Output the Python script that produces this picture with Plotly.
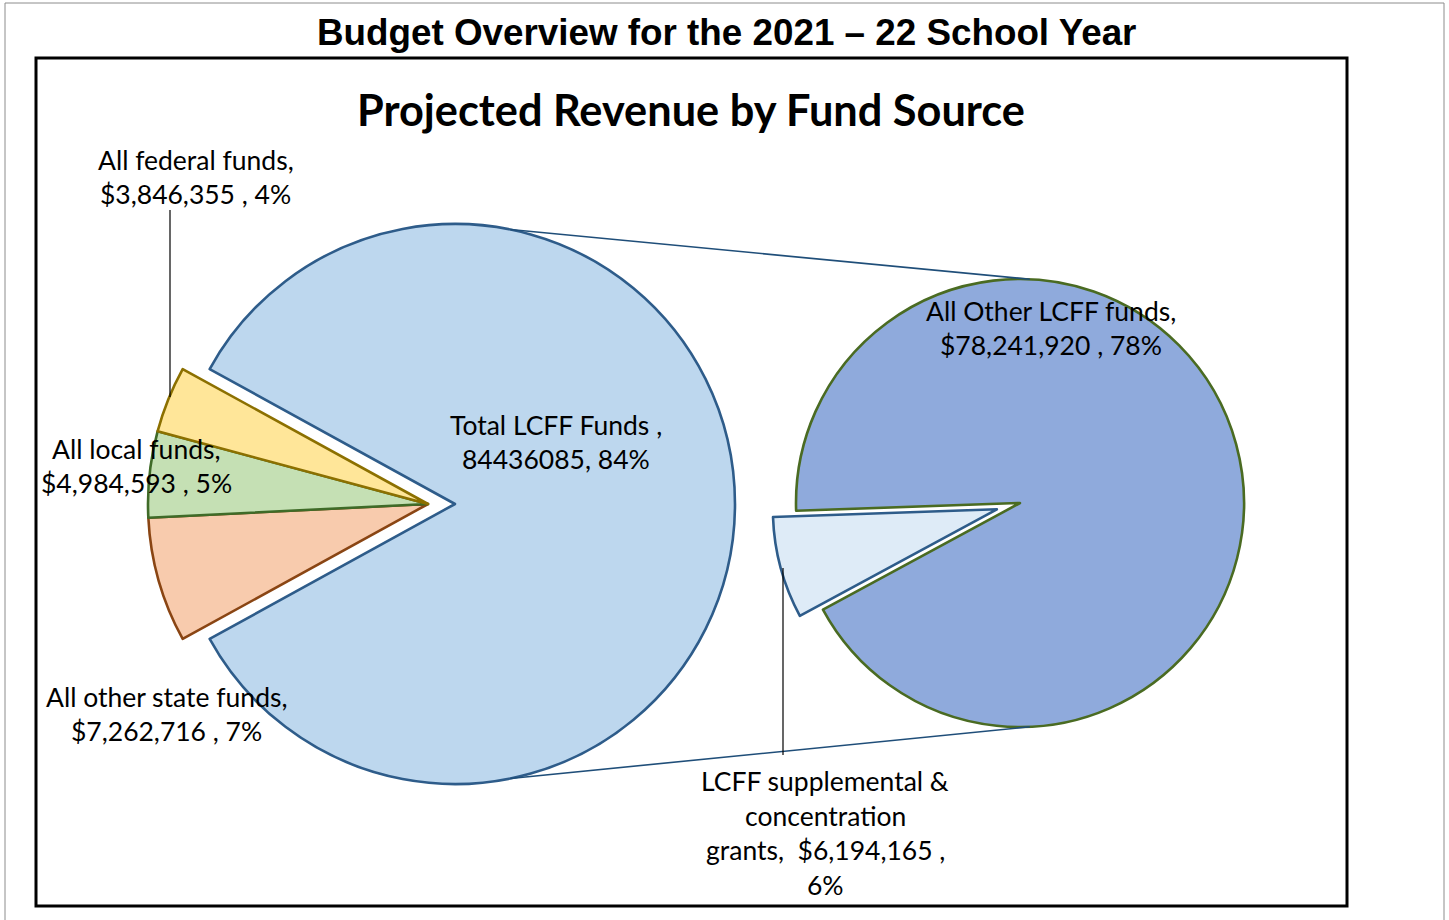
import math
import plotly.graph_objects as go

W, H = 1449, 920

# ---------------- data ----------------
main_labels = ["Total LCFF Funds", "All other state funds", "All local funds", "All federal funds"]
main_values = [84436085, 7262716, 4984593, 3846355]
sub_labels = ["LCFF supplemental & concentration grants", "All Other LCFF funds"]
sub_values = [6194165, 78241920]

title_text = "Budget Overview for the 2021 \u2013 22 School Year"
chart_title = "Projected Revenue by Fund Source"

# ---------------- styles ----------------
main_fill = ["#BDD7EE", "#F8CBAD", "#C5E0B4", "#FFE699"]
main_line = ["#2E5C8A", "#8A4513", "#3F6B28", "#8C7000"]
sub_fill = ["#DEEBF7", "#8FAADC"]
sub_line = ["#2E5C8A", "#4A6B22"]

LABEL_FONT = "Lato"
LABEL_SIZE = 26.5
LINE_GAP = 34.5

# geometry (pixels)
MAIN_CX, MAIN_CY, MAIN_R, MAIN_PULL = 428, 504, 280, 0.0964
SUB_CX, SUB_CY, SUB_R, SUB_PULL = 1020, 503, 224, 0.107
SUB_ROT = 241.6


def px(x):
    return x / W


def py(y):
    return 1 - y / H


total = sum(main_values)


def pct(v):
    return round(v / total * 100)


small_deg = 360 * sum(main_values[1:]) / total
main_rot = 270 + small_deg / 2

fig = go.Figure()

half = MAIN_R * (1 + MAIN_PULL)
fig.add_trace(go.Pie(
    labels=main_labels, values=main_values, sort=False, direction="clockwise",
    rotation=main_rot, pull=[MAIN_PULL, 0, 0, 0],
    marker=dict(colors=main_fill, line=dict(color=main_line, width=2.6)),
    textinfo="none", showlegend=False,
    domain=dict(x=[px(MAIN_CX - half), px(MAIN_CX + half)],
                y=[py(MAIN_CY + half), py(MAIN_CY - half)]),
))

half2 = SUB_R * (1 + SUB_PULL)
fig.add_trace(go.Pie(
    labels=sub_labels, values=sub_values, sort=False, direction="clockwise",
    rotation=SUB_ROT, pull=[SUB_PULL, 0],
    marker=dict(colors=sub_fill, line=dict(color=sub_line, width=2.6)),
    textinfo="none", showlegend=False,
    domain=dict(x=[px(SUB_CX - half2), px(SUB_CX + half2)],
                y=[py(SUB_CY + half2), py(SUB_CY - half2)]),
))

shapes = []
# outer page border and inner chart frame
shapes.append(dict(type="rect", xref="paper", yref="paper", x0=px(5), x1=px(1444), y0=py(940), y1=py(3),
                   line=dict(color="#8C8C8C", width=1)))
shapes.append(dict(type="rect", xref="paper", yref="paper", x0=px(36), x1=px(1347), y0=py(906), y1=py(58),
                   line=dict(color="#000000", width=3)))

# series lines from the LCFF slice to the secondary pie
lcff_cx = MAIN_CX + MAIN_PULL * MAIN_R
for sgn in (1, -1):
    a1 = math.radians(78.6) * sgn
    a2 = math.radians(87.5) * sgn
    x0 = lcff_cx + MAIN_R * math.cos(a1)
    y0 = MAIN_CY - MAIN_R * math.sin(a1)
    x1 = SUB_CX + SUB_R * math.cos(a2)
    y1 = SUB_CY - SUB_R * math.sin(a2)
    shapes.append(dict(type="line", xref="paper", yref="paper", x0=px(x0), y0=py(y0), x1=px(x1), y1=py(y1),
                       line=dict(color="#1F4E79", width=1.6)))

# leader lines for labels
shapes.append(dict(type="line", xref="paper", yref="paper", x0=px(170), x1=px(170), y0=py(210), y1=py(397),
                   line=dict(color="#000000", width=1.2)))
shapes.append(dict(type="line", xref="paper", yref="paper", x0=px(783), x1=px(783), y0=py(568), y1=py(755),
                   line=dict(color="#000000", width=1.2)))

annotations = []
annotations.append(dict(text="<b>" + title_text + "</b>", x=px(727), y=py(32), xref="paper", yref="paper",
                        showarrow=False, xanchor="center", yanchor="middle",
                        font=dict(family="Liberation Sans, Arial", size=36.8, color="#000")))
annotations.append(dict(text="<b>" + chart_title + "</b>", x=px(691), y=py(109), xref="paper", yref="paper",
                        showarrow=False, xanchor="center", yanchor="middle",
                        font=dict(family=LABEL_FONT, size=43.3, color="#000")))


def money(v):
    return "${:,}".format(v)


label_blocks = [
    (["All federal funds,", f"{money(main_values[3])} , {pct(main_values[3])}%"], 196, 177),
    (["All local funds,", f"{money(main_values[2])} , {pct(main_values[2])}%"], 136, 466),
    (["All other state funds,", f"{money(main_values[1])} , {pct(main_values[1])}%"], 166, 714),
    (["Total LCFF Funds ,", f"{main_values[0]}, {pct(main_values[0])}%"], 556, 442),
    (["All Other LCFF funds,", f"{money(sub_values[1])} , {pct(sub_values[1])}%"], 1051, 328),
    (["LCFF supplemental &", "concentration", f"grants,  {money(sub_values[0])} ,", f"{pct(sub_values[0])}%"], 825, 833),
]
for lines, cx, cy in label_blocks:
    n = len(lines)
    for i, t in enumerate(lines):
        yy = cy + (i - (n - 1) / 2) * LINE_GAP
        annotations.append(dict(text=t, x=px(cx), y=py(yy), xref="paper", yref="paper",
                                showarrow=False, xanchor="center", yanchor="middle",
                                font=dict(family=LABEL_FONT, size=LABEL_SIZE, color="#000")))

fig.update_layout(width=W, height=H, margin=dict(l=0, r=0, t=0, b=0),
                  paper_bgcolor="white", plot_bgcolor="white",
                  shapes=shapes, annotations=annotations, showlegend=False)

fig.write_html("out.html")
